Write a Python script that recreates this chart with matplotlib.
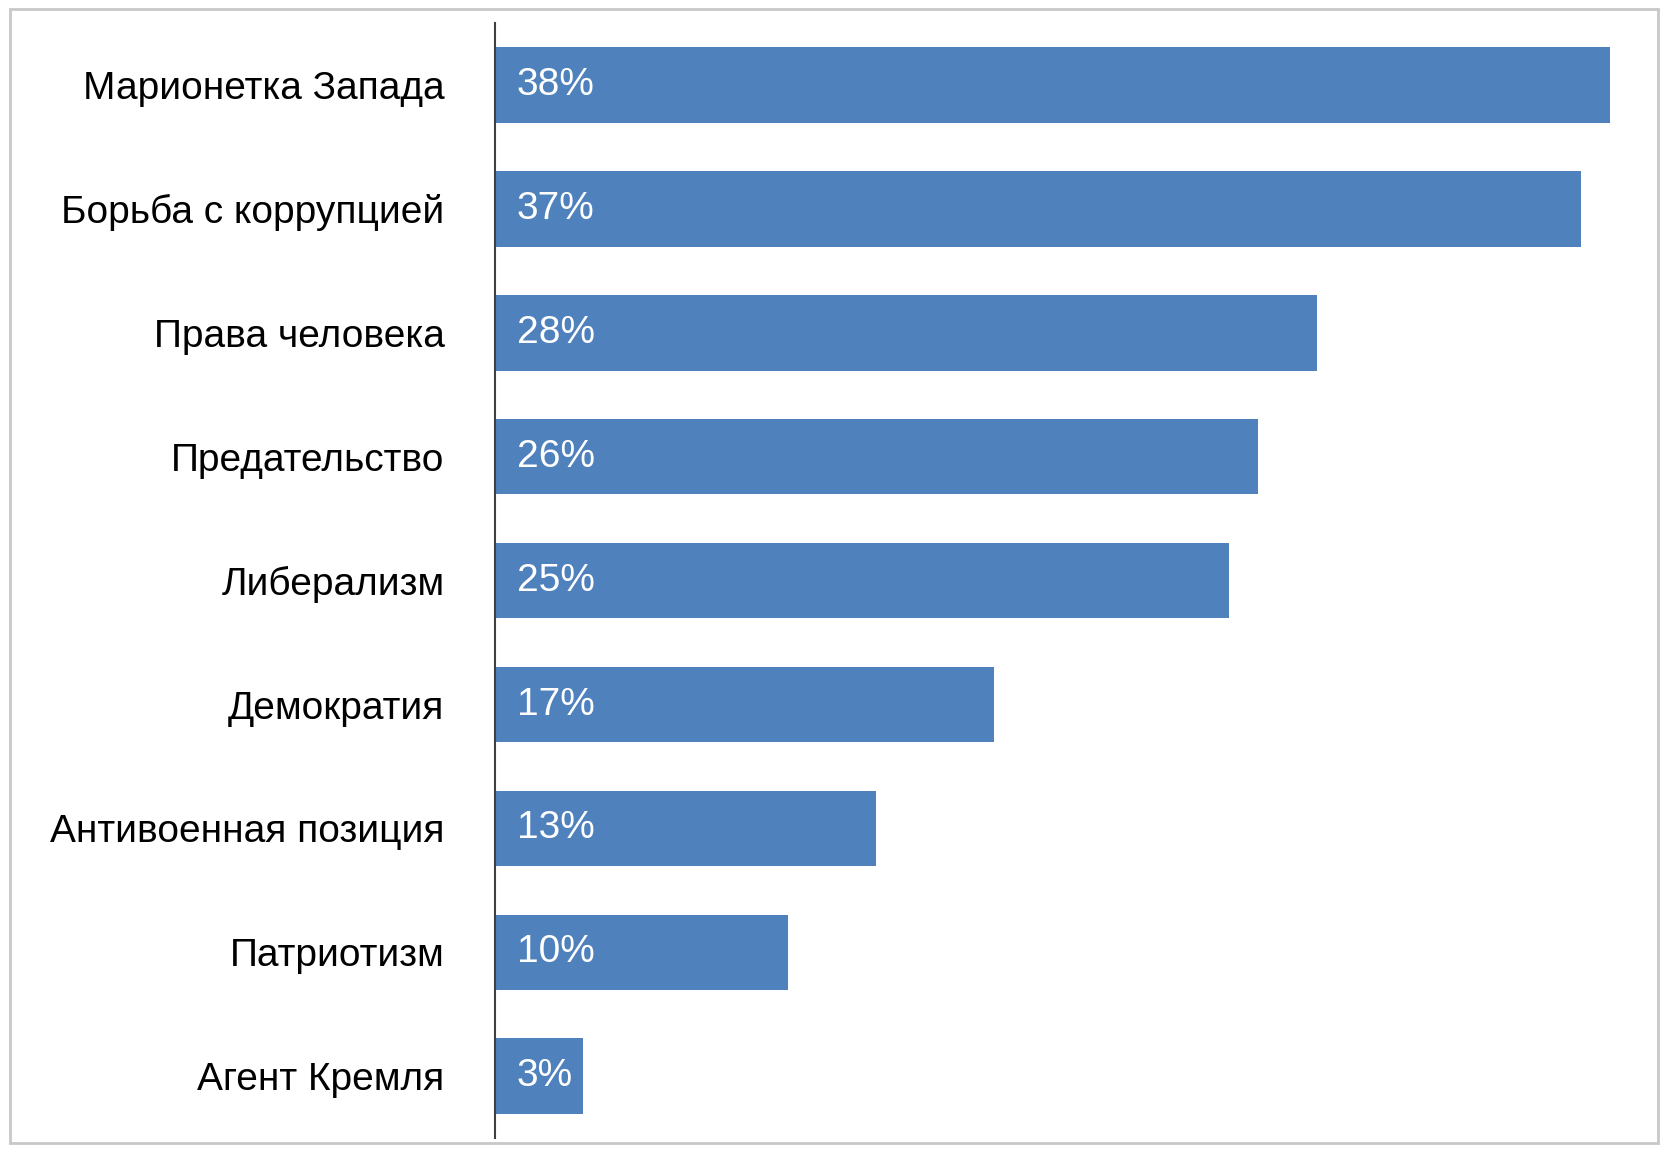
import matplotlib
matplotlib.use("Agg")
import matplotlib.pyplot as plt
from matplotlib.patches import Rectangle

categories = ["Марионетка Запада", "Борьба с коррупцией", "Права человека", "Предательство",
              "Либерализм", "Демократия", "Антивоенная позиция", "Патриотизм", "Агент Кремля"]
values = [38, 37, 28, 26, 25, 17, 13, 10, 3]
labels = ["38%", "37%", "28%", "26%", "25%", "17%", "13%", "10%", "3%"]

plt.rcParams['font.family'] = ['Liberation Sans', 'DejaVu Sans']
fig = plt.figure(figsize=(16.68, 11.52), dpi=100)
fig.patches.append(Rectangle((0.006, 0.008), 0.988, 0.984, transform=fig.transFigure,
                             fill=False, edgecolor='#c8c8c8', linewidth=2))
ax = fig.add_axes([0.2965, 0.012, 0.697, 0.968])
y = list(range(len(categories)))
ax.barh(y, values, height=0.61, color='#4F81BD')
for yi, lab in zip(y, labels):
    ax.text(0.75, yi, lab, color='white', fontsize=28, va='center', ha='left')
ax.set_yticks(y)
ax.set_yticklabels(categories, fontsize=28)
ax.set_ylim(len(categories) - 0.5 + 0.0, -0.5)
ax.set_xlim(0, 39.6)
ax.set_xticks([])
for s in ['top', 'right', 'bottom']:
    ax.spines[s].set_visible(False)
ax.spines['left'].set_color('#404040')
ax.spines['left'].set_linewidth(1.5)
ax.tick_params(axis='y', length=0, pad=36)
fig.savefig("out.png", dpi=100)
